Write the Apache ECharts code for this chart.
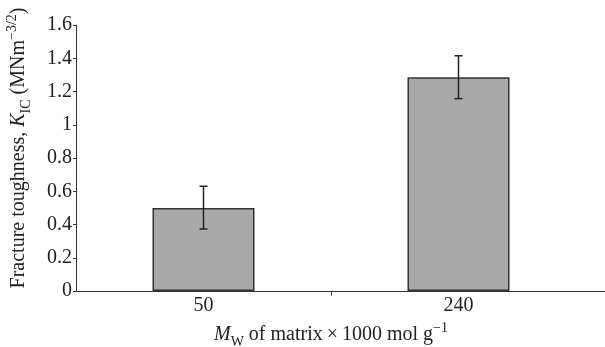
<!DOCTYPE html>
<html><head><meta charset="utf-8">
<script src="https://cdn.jsdelivr.net/npm/echarts@6/dist/echarts.min.js"></script>
<style>html,body{margin:0;padding:0;background:#fff}#c{width:605px;height:347px}</style>
</head><body><div id="c"></div>
<script>
var categories = ['50', '240'];
var toughness = [0.50, 1.285];
var errLow = [0.373, 1.157];
var errHigh = [0.630, 1.415];
var yTicks = [0, 0.2, 0.4, 0.6, 0.8, 1, 1.2, 1.4, 1.6];

var FONT = '"Liberation Serif","DejaVu Serif",serif';
var INK = '#222';
var chart = echarts.init(document.getElementById('c'));
var errData = categories.map(function (c, i) { return [i, errLow[i], errHigh[i]]; });

function rich(size) {
  return {
    i: { fontFamily: FONT, fontSize: size, fontStyle: 'italic', color: INK },
    sub: { fontFamily: FONT, fontSize: 14, color: INK, verticalAlign: 'bottom', lineHeight: 28 },
    sup: { fontFamily: FONT, fontSize: 14, color: INK, verticalAlign: 'top', lineHeight: 28 }
  };
}

chart.setOption({
  animation: false,
  grid: { left: 76, right: 19, top: 25, bottom: 56, outerBoundsMode: 'none', containLabel: false },
  xAxis: {
    type: 'category',
    data: categories,
    boundaryGap: true,
    axisLine: { lineStyle: { color: '#333', width: 1 } },
    axisTick: { show: false },
    axisLabel: { fontFamily: FONT, fontSize: 20, color: INK, margin: 5 },
    name: '{i|M}{sub|W} of matrix\u2009\u00d7\u20091000 mol g{sup|\u22121}',
    nameLocation: 'middle',
    nameGap: 26,
    nameTextStyle: { fontFamily: FONT, fontSize: 20, color: INK, rich: rich(20) }
  },
  yAxis: {
    type: 'value',
    min: yTicks[0], max: yTicks[yTicks.length - 1], interval: 0.2,
    splitLine: { show: false },
    axisLine: { show: true, lineStyle: { color: '#333', width: 1 } },
    axisTick: { show: true, length: 3, lineStyle: { color: '#333' } },
    axisLabel: {
      fontFamily: FONT, fontSize: 20, color: INK, margin: 4,
      formatter: function (v) { return String(+v.toFixed(1)); }
    },
    name: 'Fracture toughness, {i|K}{sub|IC} (MNm{sup|\u22123/2})',
    nameLocation: 'middle',
    nameGap: 43,
    nameTextStyle: { fontFamily: FONT, fontSize: 20, color: INK, rich: rich(20), padding: [0, 0, 0, 20] }
  },
  series: [
    {
      type: 'bar',
      data: toughness,
      barWidth: '40%',
      itemStyle: { color: '#a9a9a9', borderColor: '#333', borderWidth: 1.5 }
    },
    {
      type: 'custom',
      data: errData,
      z: 5,
      renderItem: function (params, api) {
        var x = api.value(0);
        var lo = api.coord([x, api.value(1)]);
        var hi = api.coord([x, api.value(2)]);
        var hw = 4;
        var st = { stroke: INK, lineWidth: 1.5 };
        return {
          type: 'group',
          children: [
            { type: 'line', shape: { x1: lo[0], y1: lo[1], x2: hi[0], y2: hi[1] }, style: st },
            { type: 'line', shape: { x1: lo[0] - hw, y1: lo[1], x2: lo[0] + hw, y2: lo[1] }, style: st },
            { type: 'line', shape: { x1: hi[0] - hw, y1: hi[1], x2: hi[0] + hw, y2: hi[1] }, style: st }
          ]
        };
      }
    }
  ]
});

// axis decorations derived from the axes: mid-category tick and axis-line extension to the edge
var p0 = chart.convertToPixel({ xAxisIndex: 0, yAxisIndex: 0 }, [0, 0]);
var p1 = chart.convertToPixel({ xAxisIndex: 0, yAxisIndex: 0 }, [1, 0]);
var midX = Math.round((p0[0] + p1[0]) / 2) + 0.5;
var axisY = Math.round(p0[1]) + 0.5;
var axisRight = Math.round(p1[0] + (p1[0] - p0[0]) / 2) - 1;
var W = chart.getWidth();
chart.setOption({
  graphic: [
    { type: 'line', shape: { x1: midX, y1: axisY, x2: midX, y2: axisY + 4 }, style: { stroke: '#333', lineWidth: 1 } },
    { type: 'line', shape: { x1: axisRight, y1: axisY, x2: W, y2: axisY }, style: { stroke: '#333', lineWidth: 1 } }
  ]
});
</script></body></html>
